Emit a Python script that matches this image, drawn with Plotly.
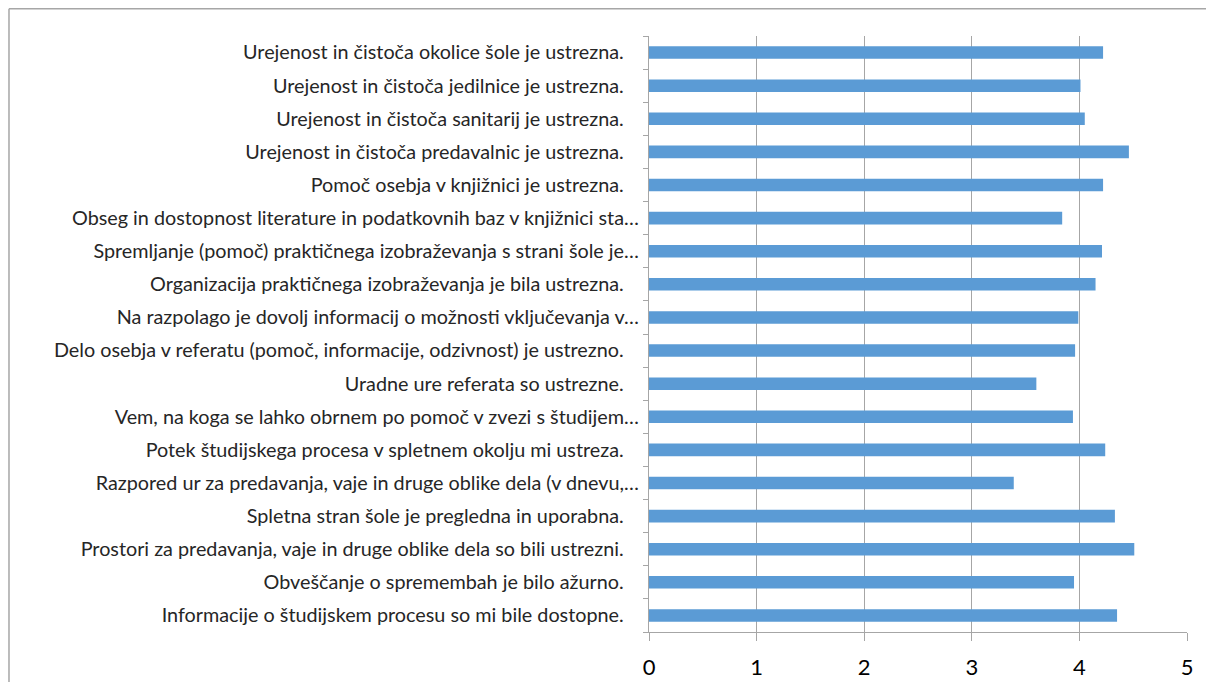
import plotly.graph_objects as go

# Categories listed top to bottom as in the reference
categories = [
    "Urejenost in čistoča okolice šole je ustrezna.",
    "Urejenost in čistoča jedilnice je ustrezna.",
    "Urejenost in čistoča sanitarij je ustrezna.",
    "Urejenost in čistoča predavalnic je ustrezna.",
    "Pomoč osebja v knjižnici je ustrezna.",
    "Obseg in dostopnost literature in podatkovnih baz v knjižnici sta…",
    "Spremljanje (pomoč) praktičnega izobraževanja s strani šole je…",
    "Organizacija praktičnega izobraževanja je bila ustrezna.",
    "Na razpolago je dovolj informacij o možnosti vključevanja v…",
    "Delo osebja v referatu (pomoč, informacije, odzivnost) je ustrezno.",
    "Uradne ure referata so ustrezne.",
    "Vem, na koga se lahko obrnem po pomoč v zvezi s študijem…",
    "Potek študijskega procesa v spletnem okolju mi ustreza.",
    "Razpored ur za predavanja, vaje in druge oblike dela (v dnevu,…",
    "Spletna stran šole je pregledna in uporabna.",
    "Prostori za predavanja, vaje in druge oblike dela so bili ustrezni.",
    "Obveščanje o spremembah je bilo ažurno.",
    "Informacije o študijskem procesu so mi bile dostopne.",
]
values = [4.22, 4.01, 4.05, 4.46, 4.22, 3.84, 4.21, 4.15, 3.99,
          3.96, 3.60, 3.94, 4.24, 3.39, 4.33, 4.51, 3.95, 4.35]
x_ticks = [0, 1, 2, 3, 4, 5]

# Labels that are not truncated sit slightly left of truncated ones (trailing space in original)
tick_text = [c if c.endswith("…") else c + "\u00a0\u00a0\u00a0" for c in categories]

fig = go.Figure(go.Bar(
    x=values,
    y=categories,
    orientation="h",
    marker=dict(color="#5B9BD5", line=dict(width=0)),
    width=0.38,
))

grid_col = "#A6A6A6"
fig.update_layout(
    width=1206, height=674,
    margin=dict(l=641, r=27, t=28, b=50, autoexpand=False),
    paper_bgcolor="white", plot_bgcolor="white",
    showlegend=False,
    font=dict(family="Lato, Open Sans, sans-serif", color="#262626"),
    shapes=[
        dict(type="line", xref="paper", yref="paper", x0=-1.1896, x1=1.2, y0=1.0457, y1=1.0457,
             line=dict(color=grid_col, width=1.5)),
        dict(type="line", xref="paper", yref="paper", x0=-1.1896, x1=-1.1896, y0=1.0457, y1=-0.2,
             line=dict(color=grid_col, width=1.5)),
    ],
)
fig.update_xaxes(
    range=[0, 5], tickvals=x_ticks, ticktext=[str(t) for t in x_ticks],
    showgrid=True, gridcolor=grid_col, gridwidth=1.3,
    showline=True, linecolor=grid_col, linewidth=1.3,
    ticks="outside", ticklen=8, tickcolor=grid_col, tickwidth=1.3,
    tickfont=dict(size=22, color="#000000"),
    ticklabelstandoff=7,
    zeroline=False, automargin=False,
)
fig.update_yaxes(
    categoryorder="array", categoryarray=categories, autorange="reversed",
    tickvals=categories, ticktext=tick_text,
    showline=True, linecolor=grid_col, linewidth=1.3,
    ticks="outside", ticklen=5, tickcolor=grid_col, tickwidth=1.3,
    tickson="boundaries",
    ticklabelstandoff=5,
    tickfont=dict(size=19.8, color="#262626"),
    showgrid=False, automargin=False,
)
fig.write_html("out.html")
